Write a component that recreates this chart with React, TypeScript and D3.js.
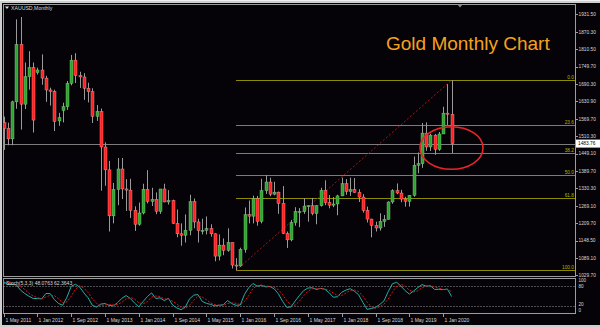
import React from "react";
import * as d3 from "d3";

// Monthly XAUUSD candles, May 2011 .. Mar 2020 (index 0 = May 2011)
const opens = [
  1556, 1536, 1500, 1628, 1826, 1620, 1715, 1746, 1729, 1738, 1710, 1669, 1664, 1562, 1598, 1611, 1692, 1772, 1719, 1714,
  1675, 1663, 1578, 1595, 1472, 1393, 1234, 1325, 1396, 1327, 1323, 1253, 1205, 1244, 1326, 1284, 1291, 1250, 1327, 1282,
  1287, 1208, 1172, 1167, 1184, 1283, 1213, 1183, 1184, 1190, 1172, 1095, 1133, 1115, 1142, 1064, 1061, 1118, 1238, 1233,
  1293, 1215, 1321, 1351, 1309, 1316, 1277, 1173, 1151, 1211, 1248, 1249, 1268, 1269, 1242, 1269, 1322, 1280, 1271, 1275,
  1303, 1345, 1318, 1325, 1315, 1299, 1253, 1223, 1201, 1192, 1215, 1222, 1282, 1321, 1313, 1292, 1284, 1305, 1409, 1414,
  1520, 1472, 1513, 1464, 1517, 1589, 1585,
];
const highs = [
  1577, 1556, 1632, 1913, 1921, 1764, 1803, 1764, 1746, 1792, 1718, 1677, 1670, 1590, 1625, 1700, 1790, 1796, 1732, 1727,
  1694, 1675, 1617, 1605, 1488, 1424, 1348, 1434, 1434, 1361, 1362, 1267, 1280, 1345, 1392, 1331, 1315, 1326, 1345, 1323,
  1290, 1256, 1208, 1239, 1307, 1294, 1224, 1224, 1232, 1205, 1174, 1170, 1156, 1191, 1142, 1088, 1124, 1263, 1287, 1304,
  1303, 1362, 1375, 1366, 1352, 1318, 1337, 1180, 1220, 1264, 1261, 1295, 1270, 1296, 1271, 1331, 1357, 1306, 1299, 1307,
  1366, 1361, 1366, 1365, 1326, 1309, 1266, 1224, 1214, 1243, 1237, 1284, 1326, 1346, 1324, 1300, 1306, 1439, 1453, 1555,
  1557, 1518, 1517, 1524, 1611, 1689, 1703,
];
const lows = [
  1462, 1478, 1478, 1604, 1532, 1603, 1670, 1522, 1722, 1687, 1628, 1615, 1527, 1545, 1557, 1600, 1685, 1693, 1676, 1635,
  1626, 1555, 1562, 1321, 1338, 1180, 1208, 1271, 1292, 1251, 1227, 1182, 1200, 1239, 1277, 1268, 1240, 1241, 1281, 1273,
  1206, 1160, 1131, 1142, 1167, 1191, 1142, 1170, 1170, 1162, 1077, 1080, 1098, 1110, 1052, 1046, 1058, 1107, 1208, 1208,
  1200, 1208, 1310, 1302, 1305, 1241, 1171, 1123, 1146, 1200, 1195, 1241, 1214, 1236, 1205, 1266, 1271, 1260, 1264, 1236,
  1302, 1307, 1303, 1314, 1282, 1245, 1211, 1160, 1180, 1183, 1196, 1221, 1276, 1309, 1281, 1266, 1266, 1300, 1381, 1400,
  1459, 1458, 1445, 1459, 1517, 1548, 1451,
];
const closes = [
  1536, 1500, 1628, 1826, 1620, 1715, 1746, 1565, 1738, 1710, 1669, 1664, 1560, 1573, 1611, 1692, 1772, 1719, 1714, 1675,
  1663, 1578, 1595, 1472, 1393, 1234, 1325, 1396, 1327, 1323, 1253, 1205, 1244, 1326, 1284, 1291, 1250, 1327, 1282, 1287,
  1208, 1172, 1167, 1184, 1283, 1213, 1183, 1184, 1190, 1172, 1095, 1133, 1115, 1142, 1064, 1061, 1118, 1238, 1233, 1293,
  1215, 1321, 1351, 1309, 1316, 1277, 1173, 1151, 1211, 1249, 1249, 1268, 1269, 1242, 1269, 1322, 1280, 1271, 1275, 1303,
  1345, 1318, 1325, 1315, 1299, 1253, 1223, 1201, 1192, 1215, 1222, 1282, 1321, 1313, 1292, 1284, 1305, 1409, 1414, 1520,
  1472, 1513, 1464, 1517, 1589, 1585, 1483.76,
];

// bars before the visible range (Sep 2010 .. Apr 2011), used only to warm up the oscillator
const preHighs = [1310, 1388, 1424, 1432, 1424, 1411, 1447, 1557];
const preLows = [1243, 1308, 1331, 1360, 1308, 1324, 1381, 1419];
const preCloses = [1307, 1357, 1386, 1421, 1332, 1409, 1439, 1556];

const dateLabels = [
  "1 May 2011", "1 Jan 2012", "1 Sep 2012", "1 May 2013", "1 Jan 2014", "1 Sep 2014", "1 May 2015",
  "1 Jan 2016", "1 Sep 2016", "1 May 2017", "1 Jan 2018", "1 Sep 2018", "1 May 2019", "1 Jan 2020",
];
const dateLabelIndex = [0, 8, 16, 24, 32, 40, 48, 56, 64, 72, 80, 88, 96, 104];

const priceTicks = [
  "1931.50", "1870.30", "1810.50", "1749.70", "1690.30", "1630.90", "1569.70", "1510.30",
  "1449.10", "1389.70", "1330.30", "1269.10", "1209.70", "1148.50", "1089.10", "1029.70",
];

const fibLevels = [0, 23.6, 38.2, 50, 61.8, 100];
const fibLabels = ["0.0", "23.6", "38.2", "50.0", "61.8", "100.0"];
const fibHigh = 1703;
const fibLow = 1046;
const fibStartIndex = 55;
const fibEndIndex = 106;
const currentPrice = 1483.76;

const stochLevels = [80, 20];
const stochAxis = ["100", "80", "20", "0"];
const stochTitle = "Stoch(5,3,3)";
const stochMainValue = "48.0763";
const stochSignalValue = "62.3643";

const FONT = "'Liberation Sans', Arial, sans-serif";
const TXT = "#d8d8d8";

export default function App() {
  const W = 600;
  const H = 327;
  const x = d3.scaleLinear().domain([0, 106]).range([3.6, 451.6]);
  const y = d3.scaleLinear().domain([1029.7, 1931.5]).range([275, 14]);
  const ys = d3.scaleLinear().domain([0, 100]).range([312.8, 279.2]);

  // Stochastic (5,3,3) derived from the candles
  const allH = preHighs.concat(highs);
  const allL = preLows.concat(lows);
  const allC = preCloses.concat(closes);
  const nPre = preHighs.length;
  const num: number[] = [];
  const den: number[] = [];
  for (let i = 0; i < allC.length; i++) {
    if (i < 4) { num.push(NaN); den.push(NaN); continue; }
    const ll = d3.min(allL.slice(i - 4, i + 1)) as number;
    const hh = d3.max(allH.slice(i - 4, i + 1)) as number;
    num.push(allC[i] - ll);
    den.push(hh - ll);
  }
  const K: number[] = allC.map((_, i) =>
    i < 6 ? NaN : (100 * (d3.sum(num.slice(i - 2, i + 1)) as number)) / (d3.sum(den.slice(i - 2, i + 1)) as number)
  );
  const D: number[] = K.map((_, i) => (i < 8 ? NaN : (d3.mean(K.slice(i - 2, i + 1)) as number)));
  const kPts = K.map((v, i) => ({ j: i - nPre, v })).filter((p) => p.j >= -1 && !isNaN(p.v));
  const dPts = D.map((v, i) => ({ j: i - nPre, v })).filter((p) => p.j >= -1 && !isNaN(p.v));
  const line = d3
    .line<{ j: number; v: number }>()
    .x((d) => x(d.j))
    .y((d) => ys(d.v));

  const plotL = 3.5;
  const plotR = 575.5;
  const fibX0 = x(fibStartIndex);

  return (
    <svg width={W} height={H} style={{ display: "block", position: "absolute", left: 0, top: 0 }}>
      <defs>
        <clipPath id="mainClip">
          <rect x={plotL} y={4.5} width={plotR - plotL} height={272} />
        </clipPath>
        <clipPath id="stochClip">
          <rect x={plotL} y={278.5} width={plotR - plotL} height={35} />
        </clipPath>
      </defs>
      <rect x={0} y={0} width={W} height={H} fill="#cfcfcf" />
      <rect x={2} y={3} width={W - 2} height={322} fill="#050308" />
      <rect x={0} y={0} width={W} height={1} fill="#f0f0f0" />

      {/* panel frames */}
      <rect x={plotL} y={4.5} width={plotR - plotL} height={272} fill="none" stroke="#9c9c9c" strokeWidth={1} />
      <rect x={plotL} y={278.5} width={plotR - plotL} height={35} fill="none" stroke="#9c9c9c" strokeWidth={1} />

      {/* title */}
      <path d="M5,6.5 L9,6.5 L7,9 Z" fill="#e0e0e0" />
      <text x={11} y={9.8} fontFamily={FONT} fontSize={5.2} fill={TXT}>XAUUSD,Monthly</text>
      <path d="M457.5,4.5 L462.5,4.5 L460,7.5 Z" fill="#8a8a8a" />

      <text x={386} y={50} fontFamily={FONT} fontSize={19} fill="#f5a21e">Gold Monthly Chart</text>

      {/* right price axis */}
      {priceTicks.map((t) => {
        const yy = y(+t);
        return (
          <g key={t}>
            <line x1={plotR} x2={plotR + 2.5} y1={Math.round(yy) + 0.5} y2={Math.round(yy) + 0.5} stroke="#9c9c9c" />
            <text x={578.5} y={yy + 1.8} fontFamily={FONT} fontSize={4.8} fill={TXT}>{t}</text>
          </g>
        );
      })}

      <g clipPath="url(#mainClip)">
        {/* fibonacci levels */}
        {fibLevels.map((lv, k) => {
          const p = fibHigh - (lv / 100) * (fibHigh - fibLow);
          const yy = Math.round(y(p)) + 0.5;
          return (
            <g key={lv}>
              <line x1={fibX0} x2={plotR} y1={yy} y2={yy} stroke="#8c8a00" strokeWidth={1.2} />
              <text x={574} y={yy - 1.2} textAnchor="end" fontFamily={FONT} fontSize={4.8} fill="#b5b300">{fibLabels[k]}</text>
            </g>
          );
        })}
        <line
          x1={x(fibStartIndex)} y1={y(fibLow)} x2={x(fibEndIndex)} y2={y(fibHigh)}
          stroke="#a01818" strokeWidth={1} strokeDasharray="2,2"
        />
        {/* current price line */}
        <line x1={plotL} x2={plotR} y1={Math.round(y(currentPrice)) + 0.5} y2={Math.round(y(currentPrice)) + 0.5} stroke="#7c7c7c" strokeWidth={1} />

        {/* candles */}
        {closes.map((c, i) => {
          const o = opens[i];
          const cx = Math.round(x(i));
          const up = c >= o;
          const top = y(Math.max(o, c));
          const bot = y(Math.min(o, c));
          const h = Math.max(1, bot - top);
          return (
            <g key={i}>
              <line x1={cx + 0.5} x2={cx + 0.5} y1={y(highs[i])} y2={y(lows[i])} stroke="#9a9a9a" strokeWidth={1} />
              <rect
                x={cx - 1} y={top} width={3} height={h}
                fill={up ? "#2fa32f" : "#ff2121"}
                stroke={up ? "#8fcf8f" : "#ff9a9a"} strokeWidth={0.4}
              />
            </g>
          );
        })}
      </g>

      {/* price marker */}
      <rect x={576} y={y(currentPrice) - 4} width={24} height={8} fill="#ffffff" />
      <text x={578} y={y(currentPrice) + 1.8} fontFamily={FONT} fontSize={4.8} fill="#000">{currentPrice.toFixed(2)}</text>

      {/* red ellipse */}
      <ellipse cx={451.5} cy={148} rx={31.5} ry={21.3} fill="none" stroke="#e6262b" strokeWidth={1.6} />

      {/* stochastic panel */}
      {stochLevels.map((lv) => (
        <line key={lv} x1={plotL} x2={plotR} y1={Math.round(ys(lv)) + 0.5} y2={Math.round(ys(lv)) + 0.5} stroke="#bdbdbd" strokeWidth={0.8} strokeDasharray="1,2" />
      ))}
      <g clipPath="url(#stochClip)">
        <path d={line(kPts) || ""} fill="none" stroke="#1fb0a6" strokeWidth={1} />
        <path d={line(dPts) || ""} fill="none" stroke="#e01515" strokeWidth={1} strokeDasharray="2,1.5" />
      </g>
      <text x={6} y={284.5} fontFamily={FONT} fontSize={5} fill={TXT}>
        {`${stochTitle} ${stochMainValue} ${stochSignalValue}`}
      </text>
      {stochAxis.map((t) => {
        const v = +t;
        const off = v === 100 ? 2.6 : v === 0 ? -0.6 : v === 20 ? 0.4 : 1.8;
        return (
          <text key={t} x={578.5} y={ys(v) + off} fontFamily={FONT} fontSize={4.6} fill={TXT}>{t}</text>
        );
      })}

      {/* time axis */}
      {dateLabels.map((t, k) => {
        const xx = Math.round(x(dateLabelIndex[k])) + 0.5;
        return (
          <g key={t}>
            <line x1={xx} x2={xx} y1={313.5} y2={317} stroke="#9c9c9c" />
            <text x={xx + 1} y={321.5} fontFamily={FONT} fontSize={5} fill={TXT}>{t}</text>
          </g>
        );
      })}
    </svg>
  );
}
